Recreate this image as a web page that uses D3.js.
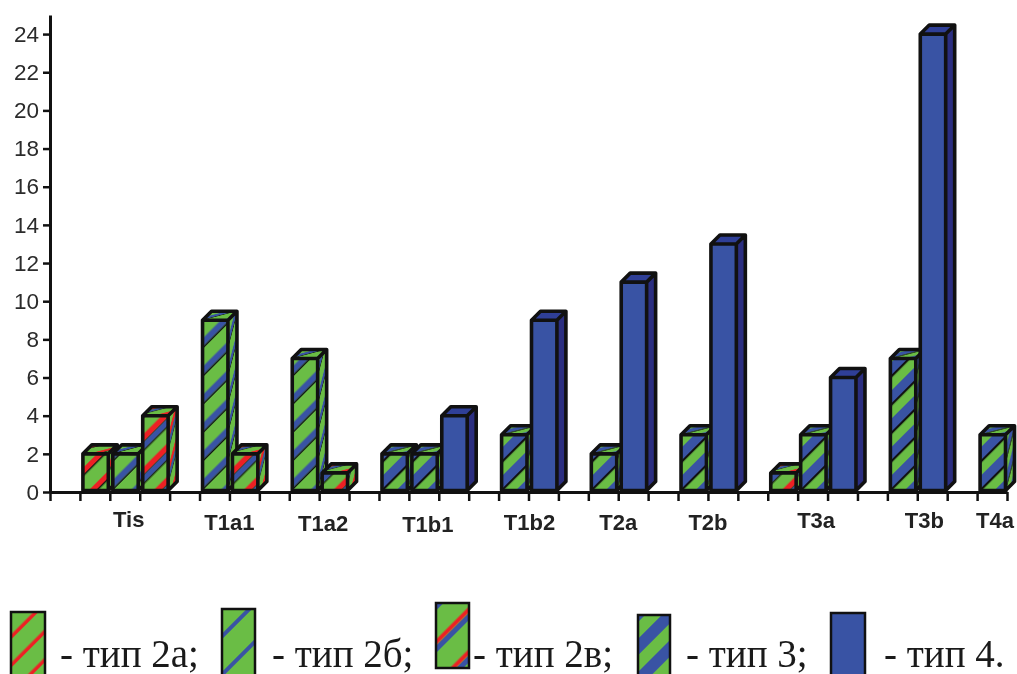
<!DOCTYPE html>
<html>
<head>
<meta charset="utf-8">
<script src="https://cdn.jsdelivr.net/npm/d3@7"></script>
<style>
html, body { margin: 0; padding: 0; background: #fff; overflow: hidden; }
svg { display: block; filter: blur(0.6px); }
.axis path, .axis line { stroke: #111; }
.axis text { font: 22.5px "Liberation Sans", Arial, sans-serif; fill: #2b2b2b; }
.cat { font: bold 22px "Liberation Sans", Arial, sans-serif; fill: #222; text-anchor: middle; }
.leg { font: 39px "Liberation Serif", "Times New Roman", serif; fill: #1a1a1a; }
</style>
</head>
<body>
<svg width="1017" height="674"></svg>
<script>
// data
var categories = ["Tis", "T1a1", "T1a2", "T1b1", "T1b2", "T2a", "T2b", "T3a", "T3b", "T4a"];
var barGroup = [0, 0, 0, 1, 1, 2, 2, 3, 3, 3, 4, 4, 5, 5, 6, 6, 7, 7, 7, 8, 8, 9];
var barType  = ["2a", "2b", "2v", "2b", "2v", "2b", "2v", "3", "3", "4", "3", "4", "3", "4", "3", "4", "2v", "3", "4", "3", "4", "3"];
var barValue = [2, 2, 4, 9, 2, 7, 1, 2, 2, 4, 3, 9, 2, 11, 3, 13, 1, 3, 6, 7, 24, 3];
var yTicks = d3.range(0, 25, 2);
var legendTypes = ["2a", "2b", "2v", "3", "4"];
var legendLabels = ["- тип 2а;", "- тип 2б;", "- тип 2в;", "- тип 3;", "- тип 4."];

// layout
var labelNudge = [[4, 35], [0, 38], [4, 39], [4, 40], [1, 38], [0, 38], [0, 38], [3.5, 36], [7, 36], [3, 36]];
var legendBox = [[11, 612, 34, 66], [222, 609, 33, 69], [436, 603, 33, 65], [638, 615, 32, 63], [831, 613, 34, 65]];
var legendTextX = [60, 272, 473, 686, 884];

var green = "#6abd45", red = "#ed2024", blue = "#3953a4", black = "#111",
    darkBlue = "#2b2e80", midBlue = "#2f3f97";

var svg = d3.select("svg"),
    defs = svg.append("defs"),
    nSlots = 32,
    depth = 9;

var x = d3.scaleLinear().domain([0, nSlots]).range([50, 1007]),
    y = d3.scaleLinear().domain([0, 25]).range([492, 15]);

// diagonal stripes, bands = [colour, from, to] along the pattern's y
function stripes(id, period, bands) {
    var p = defs.append("pattern")
        .attr("id", id)
        .attr("patternUnits", "userSpaceOnUse")
        .attr("width", period)
        .attr("height", period)
        .attr("patternTransform", "rotate(-45)");
    p.append("rect").attr("width", period).attr("height", period).attr("fill", green);
    bands.forEach(function(b) {
        p.append("rect")
            .attr("y", b[1])
            .attr("width", period)
            .attr("height", b[2] - b[1])
            .attr("fill", b[0]);
    });
}

stripes("p2a", 20, [[red, 4, 9], [black, 9, 10.4]]);
stripes("p2b", 20, [[blue, 12.5, 18.6], [black, 18.6, 20]]);
stripes("p2v", 23.5, [[red, 7.5, 13], [black, 13, 13.6], [blue, 13.6, 18.8], [black, 18.8, 20]]);
stripes("p3", 20, [[black, 0, 1.2], [blue, 10, 19], [black, 19, 20]]);

// legend swatches have thinner stripes, no black edge
stripes("l2a", 20, [[red, 16.5, 20]]);
stripes("l2b", 27, [[blue, 11, 15]]);
stripes("l2v", 30, [[red, 10.5, 14.5], [blue, 15, 20]]);
stripes("l3", 23.5, [[blue, 9.8, 21.5]]);

function frontFill(t) { return t === "4" ? blue : "url(#p" + t + ")"; }
function sideFill(t) { return t === "4" ? darkBlue : "url(#p" + t + ")"; }
function topFill(t) { return t === "4" ? midBlue : "url(#p" + t + ")"; }

// x axis: one tick per slot edge
svg.append("g")
    .attr("class", "axis")
    .attr("transform", "translate(0," + y(0) + ")")
    .call(d3.axisBottom(x).tickValues(d3.range(nSlots + 1)).tickSize(9).tickSizeOuter(0).tickFormat(""))
    .call(function(g) {
        g.select(".domain").attr("stroke-width", 3);
        g.selectAll("line").attr("stroke-width", 2.5);
    });

svg.append("g")
    .attr("class", "axis")
    .attr("transform", "translate(" + x(0) + ",0)")
    .call(d3.axisLeft(y).tickValues(yTicks).tickSize(7).tickSizeOuter(0).tickPadding(4))
    .call(function(g) {
        g.select(".domain").attr("stroke-width", 3);
        g.selectAll("line").attr("stroke-width", 2.5);
    });

// slot of each bar: consecutive inside a group, one empty slot between groups
var slot = 0, bars = barValue.map(function(v, i) {
    if (i === 0) slot = 1;
    else slot += barGroup[i] === barGroup[i - 1] ? 1 : 2;
    return {slot: slot, group: barGroup[i], type: barType[i], value: v};
});

var w = x(1) - x(0) - 4.5;

var bar = svg.selectAll(".bar").data(bars)
    .enter().append("g")
    .attr("class", "bar")
    .attr("transform", function(d) { return "translate(" + (x(d.slot) + 3) + "," + (y(0) - 1.5) + ")"; });

bar.each(function(d) {
    var g = d3.select(this),
        h = y(0) - 1.5 - y(d.value);

    // side face: same pattern squeezed into the parallelogram
    g.append("rect")
        .attr("width", w).attr("y", -h).attr("height", h)
        .attr("transform", "matrix(" + depth / w + "," + -depth / w + ",0,1," + w + ",0)")
        .attr("fill", sideFill(d.type));

    // top face
    g.append("rect")
        .attr("width", w).attr("y", -w).attr("height", w)
        .attr("transform", "matrix(1,0," + -depth / w + "," + depth / w + ",0," + -h + ")")
        .attr("fill", topFill(d.type));

    g.append("rect")
        .attr("width", w).attr("y", -h).attr("height", h)
        .attr("fill", frontFill(d.type));

    var outline = d3.path();
    outline.moveTo(0, 0);
    outline.lineTo(0, -h);
    outline.lineTo(depth, -h - depth);
    outline.lineTo(w + depth, -h - depth);
    outline.lineTo(w + depth, -depth);
    outline.lineTo(w, 0);
    outline.closePath();
    outline.moveTo(0, -h);
    outline.lineTo(w, -h);
    outline.lineTo(w + depth, -h - depth);
    outline.moveTo(w, -h);
    outline.lineTo(w, 0);

    g.append("path")
        .attr("d", outline.toString())
        .attr("fill", "none")
        .attr("stroke", black)
        .attr("stroke-width", 3.6)
        .attr("stroke-linejoin", "round");
});

// category labels, placed by hand in the original
svg.selectAll(".cat").data(categories)
    .enter().append("text")
    .attr("class", "cat")
    .attr("x", function(d, i) {
        var inGroup = bars.filter(function(b) { return b.group === i; }),
            mid = (inGroup[0].slot + inGroup[inGroup.length - 1].slot + 1) / 2;
        return x(mid) + labelNudge[i][0];
    })
    .attr("y", function(d, i) { return y(0) + labelNudge[i][1]; })
    .text(function(d) { return d; });

// legend
var legend = svg.selectAll(".legend").data(legendTypes)
    .enter().append("g")
    .attr("class", "legend");

legend.append("rect")
    .attr("x", function(d, i) { return legendBox[i][0]; })
    .attr("y", function(d, i) { return legendBox[i][1]; })
    .attr("width", function(d, i) { return legendBox[i][2]; })
    .attr("height", function(d, i) { return legendBox[i][3]; })
    .attr("fill", function(d) { return d === "4" ? blue : "url(#l" + d + ")"; })
    .attr("stroke", black)
    .attr("stroke-width", 2.5);

legend.append("text")
    .attr("class", "leg")
    .attr("x", function(d, i) { return legendTextX[i]; })
    .attr("y", 667)
    .text(function(d, i) { return legendLabels[i]; });
</script>
</body>
</html>
